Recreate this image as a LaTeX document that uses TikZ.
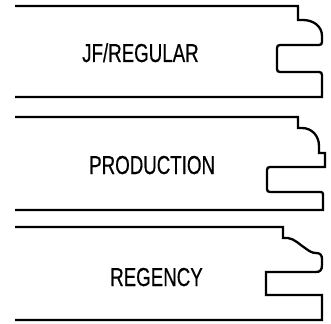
\documentclass[tikz,border=0pt]{standalone}
\usepackage{fontspec}
\setmainfont{Liberation Sans}[FakeBold=0.5]
\tikzset{
  profile/.style={draw=black, line width=2.3pt, line join=miter},
  label/.style={anchor=base west, inner sep=0pt, font=\fontsize{26}{26}\selectfont}
}
\newcommand{\cond}[1]{\scalebox{0.72}[1]{#1}}
\begin{document}
\begin{tikzpicture}[x=1pt,y=-1pt]
\useasboundingbox (0,0) rectangle (331,323);
% profile 1
\draw[profile] (15,6) -- (298,6) -- (298,20) -- (303,20)
  .. controls (313,20) and (322,26) .. (322,36) -- (322,42)
  .. controls (322,44) and (321,45) .. (319,45) -- (280,45)
  .. controls (278,45) and (277,46) .. (277,48) -- (277,69)
  .. controls (277,71) and (278,72) .. (280,72) -- (319,72)
  .. controls (321,72) and (322,73) .. (322,75) -- (322,97) -- (15,97);
% profile 2
\draw[profile] (15,117) -- (298,117) -- (298,128) -- (302,128)
  .. controls (312,128) and (319,136) .. (319,146) -- (319,153) -- (325,153) -- (325,167) -- (270,167)
  .. controls (268,167) and (267,168) .. (267,170) -- (267,189)
  .. controls (267,191) and (268,192) .. (270,192) -- (321,192)
  .. controls (322,192) and (323,193) .. (323,194) -- (323,210) -- (15,210);
% profile 3
\draw[profile] (15,227) -- (283,227) -- (283,238) -- (288,238)
  .. controls (295,239) and (300,245) .. (305,248)
  .. controls (309,251) and (312,253) .. (316,253)
  .. controls (320,253) and (322,255) .. (322,259) -- (322,265)
  .. controls (322,270) and (320,272) .. (316,272) -- (266,272) -- (266,295) -- (322,295) -- (322,320) -- (15,320);
\node[label] (jf) at (82,62) {\cond{JF/REGULAR}};
\node[label] (prod) at (89,174) {\cond{PRODUCTION}};
\node[label] (reg) at (110,286) {\cond{REGENCY}};
\end{tikzpicture}
\end{document}
